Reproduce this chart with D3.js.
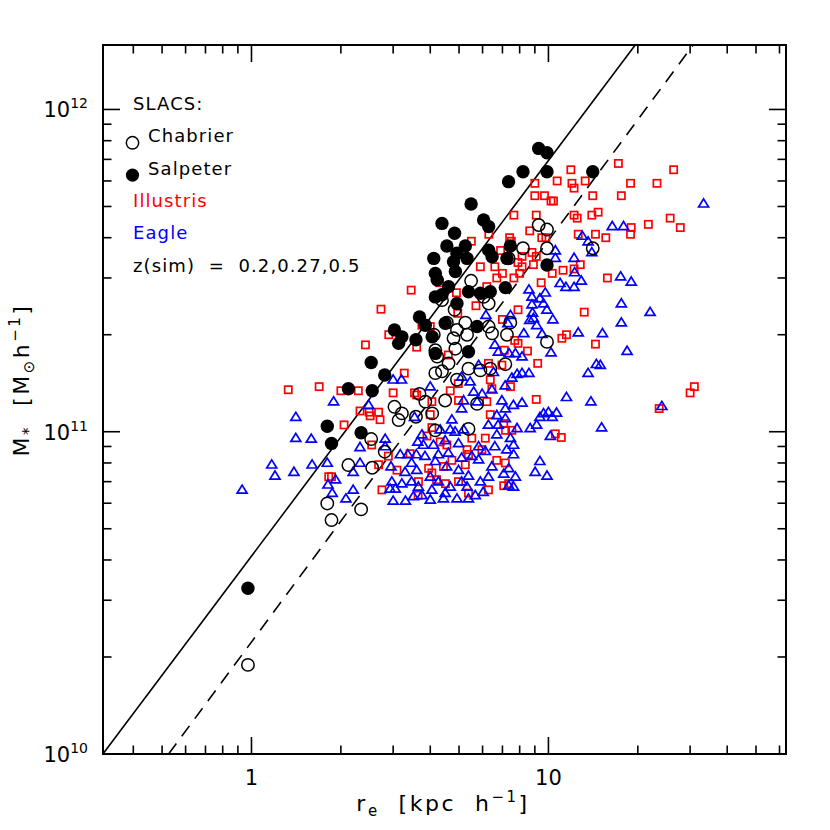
<!DOCTYPE html>
<html>
<head>
<meta charset="utf-8">
<script src="https://cdn.jsdelivr.net/npm/d3@7"></script>
<style>
  body { margin: 0; background: #fff; }
  text { font-family: "DejaVu Sans", sans-serif; fill: #000; }
</style>
</head>
<body>
<svg id="chart"></svg>
<script>
// masses are stored in units of 1e10 Msun/h, radii in kpc/h
const MUNIT = 1e10;

// SLACS lenses, Salpeter IMF masses
const slacsSalpeter = [
  [0.973, 3.27], [1.80, 10.4], [1.86, 9.2], [2.34, 9.93], [2.12, 13.6], [2.55, 13.4],
  [2.53, 16.4], [2.81, 15.0], [3.03, 20.7], [3.21, 19.7], [3.13, 18.8], [3.58, 19.3],
  [3.68, 22.7], [3.85, 21.4], [4.06, 19.7], [4.16, 17.5], [5.38, 17.7], [4.49, 21.7],
  [5.75, 21.2], [4.92, 25.0], [4.16, 26.2], [4.38, 26.6], [5.38, 27.2], [6.37, 27.2],
  [5.90, 26.9], [7.16, 28.0], [4.61, 28.2], [4.16, 31.0], [4.22, 29.6], [4.86, 31.4],
  [9.89, 32.9], [4.79, 33.7], [5.32, 34.5], [4.11, 34.5], [4.92, 35.8], [4.55, 37.7],
  [5.25, 37.7], [6.29, 36.6], [6.46, 34.9], [7.44, 37.7], [7.25, 34.5], [4.83, 41.3],
  [6.05, 45.4], [6.29, 43.3], [4.38, 44.3], [5.49, 50.9], [7.34, 59.7], [8.21, 64.1],
  [9.89, 64.1], [9.27, 75.7], [9.89, 73.4], [14.1, 64.1]
];

// same lenses, Chabrier IMF masses
const slacsChabrier = [
  [0.973, 1.89], [1.80, 5.99], [1.86, 5.32], [2.34, 5.74], [2.12, 7.88], [2.55, 7.73],
  [2.53, 9.49], [2.81, 8.67], [3.03, 11.95], [3.21, 11.4], [3.13, 10.87], [3.58, 11.13],
  [3.68, 13.1], [3.85, 12.4], [4.06, 11.4], [4.16, 10.1], [5.38, 10.2], [4.49, 12.5],
  [5.75, 12.2], [4.92, 14.5], [4.16, 15.2], [4.38, 15.4], [5.38, 15.7], [6.37, 15.7],
  [5.90, 15.5], [7.16, 16.2], [4.61, 16.3], [4.16, 17.9], [4.22, 17.1], [4.86, 18.1],
  [9.89, 19.0], [4.79, 19.5], [5.32, 20.0], [4.11, 20.0], [4.92, 20.7], [4.55, 21.8],
  [5.25, 21.8], [6.29, 21.2], [6.46, 20.2], [7.44, 21.8], [7.25, 20.0], [4.83, 23.9],
  [6.05, 26.2], [6.29, 25.0], [4.38, 25.6], [5.49, 29.4], [7.34, 34.5], [8.21, 37.1],
  [9.89, 37.1], [9.27, 43.8], [9.89, 42.4], [14.1, 37.1]
];

const illustris = [
  [3.45, 27.5], [2.73, 24], [3.75, 21.4],
  [17.2, 68], [11.9, 65], [10.7, 60], [9.0, 59], [12.0, 59], [13.3, 60], [12.2, 57], [9.0, 54],
  [9.7, 54], [10.2, 52], [10.4, 52], [14.1, 54], [17.6, 54],
  [7.65, 47], [9.1, 47], [12.2, 47], [12.5, 46], [14.0, 47], [14.7, 48],
  [5.5, 39], [6.3, 41], [7.4, 40], [7.5, 39], [8.65, 42], [9.5, 40], [9.8, 40], [12.6, 41],
  [14.4, 41], [15.6, 40], [6.9, 36.5], [8.15, 35], [8.8, 36], [9.1, 35],
  [5.9, 32.5], [6.6, 32.5], [7.9, 33.5], [8.15, 32.5], [8.9, 33], [7.65, 30], [6.7, 30],
  [7.0, 31], [11.2, 31.7], [10.3, 31], [12.8, 33], [12.2, 32], [15.8, 30], [8.0, 31],
  [9.45, 29], [6.2, 28.2], [4.9, 27], [4.3, 29], [5.7, 24.6], [7.9, 23.9], [13.2, 23.5],
  [7.0, 22.3], [4.95, 23.3], [4.0, 21.2],
  [26.4, 65], [18.9, 59], [23.2, 59], [19, 43], [21.7, 44], [25.7, 46], [27.8, 43], [18.9, 41],
  [31, 13.8], [30, 13.2], [23.6, 11.8],
  [2.9, 20], [2.42, 18.6], [3.6, 18.3], [3.27, 15.2], [1.33, 13.5], [1.69, 13.8], [2.0, 13.4],
  [2.29, 13.4], [3.0, 13.2], [3.54, 13.2], [2.32, 11.6], [2.49, 11.5], [2.68, 11.5], [2.51, 11.2],
  [2.71, 10.9], [2.05, 10.5], [2.54, 9.1], [2.89, 8.4], [2.68, 7.9], [3.42, 8.55], [1.82, 7.25],
  [1.86, 7.25], [2.75, 6.6], [3.65, 7.0], [3.64, 6.35], [3.09, 7.6], [3.6, 13],
  [11.5, 20], [11.1, 19.5], [14.4, 18.7], [8.5, 17.8], [9.2, 16.3], [7.7, 19.2], [7.1, 17.9],
  [7.9, 18.8], [4.6, 17.3], [4.97, 14.1], [4.67, 13.4], [6.28, 16.3], [6.97, 16.1], [6.37, 14.5],
  [7.45, 13.8], [6.45, 13.6], [6.2, 12.4], [9.1, 12.6], [4.05, 12.4], [4.0, 11.3], [4.98, 12.5],
  [6.37, 11.3], [7.53, 10.1], [7.17, 10.1], [7.07, 10.6], [6.13, 9.55], [5.52, 9.55],
  [10.55, 9.85], [11.05, 9.6], [4.05, 10.3], [3.9, 9.7], [4.32, 9.3], [4.55, 9.1], [5.32, 8.8],
  [5.97, 8.8], [5.38, 8.5], [4.73, 8.15], [5.25, 7.9], [6.7, 8.15], [7.16, 8.0], [3.95, 7.7],
  [4.43, 7.8], [4.05, 7.45], [4.98, 7.0], [4.5, 6.9], [7.07, 6.8], [6.28, 6.6], [5.38, 6.45],
  [4.2, 7.1], [7.35, 6.9]
];

const eagle = [
  [16.4, 43.4], [17.9, 43.4], [13.0, 40.5], [13.6, 38.9], [14.0, 36], [10.55, 36.5],
  [10.55, 34.6], [12.2, 34.6], [12.25, 31.2], [10.95, 28.9], [11.45, 28.1], [12.2, 28.1],
  [12.9, 29.4], [17.5, 30.3], [8.6, 27.6], [8.8, 26.2], [9.76, 27], [9.36, 25.9], [9.62, 25],
  [9.88, 23.9], [8.8, 24.8], [8.84, 23.4], [8.9, 22.5], [8.65, 22.2], [10.35, 22.3],
  [17.6, 25], [17.6, 21.8], [6.16, 23], [7.45, 23], [7.3, 21.7], [9.13, 21.4],
  [33.3, 51], [19, 29.2], [22, 23.5], [15.2, 20.2], [18.4, 17.8], [14.95, 16.1], [24.1, 12],
  [15.1, 10.3],
  [3.0, 14.5], [3.2, 14.5], [1.89, 12.4], [1.41, 11.1], [2.48, 12.1], [3.54, 11.1], [1.41, 9.55],
  [1.59, 9.5], [2.82, 9.5], [2.32, 8.95], [1.17, 7.9], [1.2, 7.3], [1.39, 7.5], [1.6, 7.9],
  [1.8, 8.0], [2.32, 8.0], [0.93, 6.6], [1.81, 6.85], [1.92, 7.1], [1.87, 6.45], [2.2, 6.6],
  [2.08, 6.2], [2.2, 7.5], [2.95, 7.8], [3.17, 8.5], [3.36, 8.5], [3.59, 8.5], [3.75, 9.8],
  [3.63, 9.3], [2.82, 9.0], [3.29, 7.5], [3.46, 8.0], [3.6, 7.6], [2.97, 7.0], [3.21, 6.9],
  [2.93, 6.65], [3.05, 6.65], [3.46, 7.0], [3.65, 6.75], [3.0, 6.1], [3.3, 6.1], [3.51, 6.3],
  [3.75, 6.35], [3.79, 9.1],
  [8.26, 20.2], [9.52, 20.1], [12.6, 20.3], [10.2, 17.6], [8.15, 17.1], [7.37, 17.5],
  [7.74, 17.5], [6.6, 18.6], [6.78, 17.7], [5.82, 16.1], [6.53, 15.3], [8.15, 15.2], [8.6, 15.2],
  [7.84, 15.1], [7.53, 14.7], [7.15, 13.9], [13.6, 15.2], [14.5, 16.2], [4.0, 13.8], [5.1, 14.8],
  [5.45, 14.3], [5.6, 13.3], [5.98, 13.1], [6.45, 13.5], [6.97, 12.5], [7.62, 12.1], [8.15, 12.3],
  [11.5, 12.8], [13.9, 12.4], [5.18, 12.5], [5.75, 12.4], [7.16, 11.8], [9.63, 11.4], [10.0, 11.5],
  [10.65, 11.45], [9.36, 11.1], [10.3, 11.1], [6.7, 11.25], [7.16, 11.0], [9.13, 10.5],
  [8.68, 10.25], [7.84, 10.25], [10.15, 9.7], [6.28, 10.5], [6.77, 10.5], [4.73, 10.9],
  [5.1, 11.8], [4.67, 10.15], [4.32, 10.15], [5.18, 10.15], [6.7, 9.8], [7.45, 9.55], [7.63, 9.1],
  [7.24, 8.8], [7.63, 8.5], [6.6, 9.0], [5.82, 9.0], [6.13, 8.7], [5.52, 8.4], [4.98, 9.2],
  [4.49, 9.4], [4.1, 9.1], [9.36, 8.1], [9.02, 7.5], [9.89, 7.3], [7.35, 7.7], [7.74, 7.25],
  [6.28, 7.25], [5.9, 7.0], [5.38, 7.3], [4.98, 7.6], [4.54, 7.8], [4.16, 8.1], [4.0, 7.25],
  [4.26, 7.0], [4.67, 6.75], [5.32, 6.75], [5.67, 6.35], [6.03, 6.5], [5.38, 6.2], [4.92, 6.2],
  [4.43, 6.2], [4.0, 6.15], [7.35, 6.8], [7.63, 6.75], [4.05, 6.6], [4.49, 6.45], [5.1, 7.0],
  [5.82, 8.2], [6.45, 7.8], [7.07, 7.4], [4.6, 8.6], [4.26, 8.5], [3.84, 8.4], [5.1, 8.3],
  [4.85, 10.0]
];

// relation lines, endpoints read where they meet the frame
const lineSalpeter = [[0.316, 1.0], [19.6, 158.5]];
const lineChabrier = [[0.526, 1.0], [30.7, 158.5]];

const xTickLabels = [1, 10];
const yTickExponents = [10, 11, 12];

const legendItems = [
  { label: "SLACS:", color: "#000", marker: null },
  { label: "Chabrier", color: "#000", marker: "open" },
  { label: "Salpeter", color: "#000", marker: "filled" },
  { label: "Illustris", color: "#ff0000", marker: null },
  { label: "Eagle", color: "#0000ff", marker: null },
  { label: "z(sim)  =  0.2,0.27,0.5", color: "#000", marker: null }
];

const width = 830, height = 830;
const plotLeft = 103, plotRight = 786, plotTop = 45, plotBottom = 754;

const svg = d3.select("#chart")
  .attr("width", width)
  .attr("height", height);

svg.append("rect").attr("width", width).attr("height", height).attr("fill", "#fff");

const x = d3.scaleLog().domain([Math.pow(10, -0.5), Math.pow(10, 1.8)]).range([plotLeft, plotRight]);
const y = d3.scaleLog().domain([1e10, Math.pow(10, 12.2)]).range([plotBottom, plotTop]);

svg.append("clipPath").attr("id", "clip")
  .append("rect").attr("x", plotLeft).attr("y", plotTop)
  .attr("width", plotRight - plotLeft).attr("height", plotBottom - plotTop);

const plot = svg.append("g").attr("clip-path", "url(#clip)");

// relation lines
const line = d3.line().x(d => x(d[0])).y(d => y(d[1] * MUNIT));
plot.append("path").datum(lineSalpeter).attr("d", line)
  .attr("fill", "none").attr("stroke", "#000").attr("stroke-width", 1.6);
plot.append("path").datum(lineChabrier).attr("d", line)
  .attr("fill", "none").attr("stroke", "#000").attr("stroke-width", 1.6)
  .attr("stroke-dasharray", "13,9");

// Illustris squares
plot.selectAll("rect.ill")
  .data(illustris)
  .enter().append("rect")
  .attr("class", "ill")
  .attr("x", d => x(d[0]) - 3.6)
  .attr("y", d => y(d[1] * MUNIT) - 3.6)
  .attr("width", 7.2).attr("height", 7.2)
  .attr("fill", "none").attr("stroke", "#ff0000").attr("stroke-width", 1.7);

// Eagle triangles
const tri = "M0,-4.8L5,3.3L-5,3.3Z";
plot.selectAll("path.eagle")
  .data(eagle)
  .enter().append("path")
  .attr("class", "eagle")
  .attr("transform", d => `translate(${x(d[0])},${y(d[1] * MUNIT)})`)
  .attr("d", tri)
  .attr("fill", "none").attr("stroke", "#0000ff").attr("stroke-width", 1.7)
  .attr("stroke-linejoin", "miter");

// SLACS
plot.selectAll("circle.salp")
  .data(slacsSalpeter)
  .enter().append("circle")
  .attr("class", "salp")
  .attr("cx", d => x(d[0])).attr("cy", d => y(d[1] * MUNIT))
  .attr("r", 6.7).attr("fill", "#000");

plot.selectAll("circle.chab")
  .data(slacsChabrier)
  .enter().append("circle")
  .attr("class", "chab")
  .attr("cx", d => x(d[0])).attr("cy", d => y(d[1] * MUNIT))
  .attr("r", 6.2).attr("fill", "none").attr("stroke", "#000").attr("stroke-width", 1.5);

// ticks on all four sides
const frame = svg.append("g");
const majorLen = 17, minorLen = 8.5;
for (let d = -1; d <= 1; d++) {
  for (let k = 1; k <= 9; k++) {
    const v = k * Math.pow(10, d);
    if (v < x.domain()[0] || v > x.domain()[1]) continue;
    const len = k === 1 ? majorLen : minorLen;
    const px = x(v);
    frame.append("line").attr("x1", px).attr("x2", px).attr("y1", plotBottom).attr("y2", plotBottom - len);
    frame.append("line").attr("x1", px).attr("x2", px).attr("y1", plotTop).attr("y2", plotTop + len);
  }
}
for (let d = 10; d <= 12; d++) {
  for (let k = 1; k <= 9; k++) {
    const v = k * Math.pow(10, d);
    if (v < y.domain()[0] || v > y.domain()[1]) continue;
    const len = k === 1 ? majorLen : minorLen;
    const py = y(v);
    frame.append("line").attr("x1", plotLeft).attr("x2", plotLeft + len).attr("y1", py).attr("y2", py);
    frame.append("line").attr("x1", plotRight).attr("x2", plotRight - len).attr("y1", py).attr("y2", py);
  }
}
frame.selectAll("line").attr("stroke", "#000").attr("stroke-width", 1.6);

frame.append("rect")
  .attr("x", plotLeft).attr("y", plotTop)
  .attr("width", plotRight - plotLeft).attr("height", plotBottom - plotTop)
  .attr("fill", "none").attr("stroke", "#000").attr("stroke-width", 2);

// tick labels
svg.selectAll("text.xtick")
  .data(xTickLabels)
  .enter().append("text")
  .attr("class", "xtick")
  .attr("x", d => x(d))
  .attr("y", 785)
  .attr("text-anchor", "middle")
  .style("font-size", "21px")
  .text(d => d);

yTickExponents.forEach(e => {
  const t = svg.append("text")
    .attr("x", 88)
    .attr("y", y(Math.pow(10, e)) + 8)
    .attr("text-anchor", "end")
    .style("font-size", "21px");
  t.append("tspan").text("10");
  t.append("tspan").attr("dy", -9).style("font-size", "14px").text(e);
});

// axis titles
const xt = svg.append("text")
  .attr("x", 443).attr("y", 811)
  .attr("text-anchor", "middle")
  .style("font-size", "22px")
  .style("letter-spacing", "2.5px")
  .attr("xml:space", "preserve");
xt.append("tspan").text("r");
xt.append("tspan").attr("dy", 5).style("font-size", "15px").text("e");
xt.append("tspan").attr("dy", -5).text("  [kpc  h");
xt.append("tspan").attr("dy", -9).style("font-size", "15px").text("\u22121");
xt.append("tspan").attr("dy", 9).text("]");

const yt = svg.append("text")
  .attr("transform", "translate(29,380) rotate(-90)")
  .attr("text-anchor", "middle")
  .style("font-size", "22px")
  .style("letter-spacing", "2.5px")
  .attr("xml:space", "preserve");
yt.append("tspan").text("M");
yt.append("tspan").attr("dy", 5).style("font-size", "15px").text("*");
yt.append("tspan").attr("dy", -5).text("  [M");
yt.append("tspan").attr("dy", 5).style("font-size", "15px").text("\u2299");
yt.append("tspan").attr("dy", -5).text("h");
yt.append("tspan").attr("dy", -9).style("font-size", "15px").text("\u22121");
yt.append("tspan").attr("dy", 9).text("]");

// legend
const legend = svg.append("g");
legendItems.forEach((d, i) => {
  const by = 110 + i * 32.3;
  legend.append("text")
    .attr("x", d.marker ? 148 : 133)
    .attr("y", by)
    .attr("xml:space", "preserve")
    .style("font-size", "18px")
    .style("letter-spacing", "1.1px")
    .style("fill", d.color)
    .text(d.label);
  if (d.marker === "open") {
    legend.append("circle").attr("cx", 132.5).attr("cy", by + 0.5).attr("r", 6.2)
      .attr("fill", "none").attr("stroke", "#000").attr("stroke-width", 1.5);
  } else if (d.marker === "filled") {
    legend.append("circle").attr("cx", 132.5).attr("cy", by + 0.5).attr("r", 6.6)
      .attr("fill", "#000");
  }
});
</script>
</body>
</html>
